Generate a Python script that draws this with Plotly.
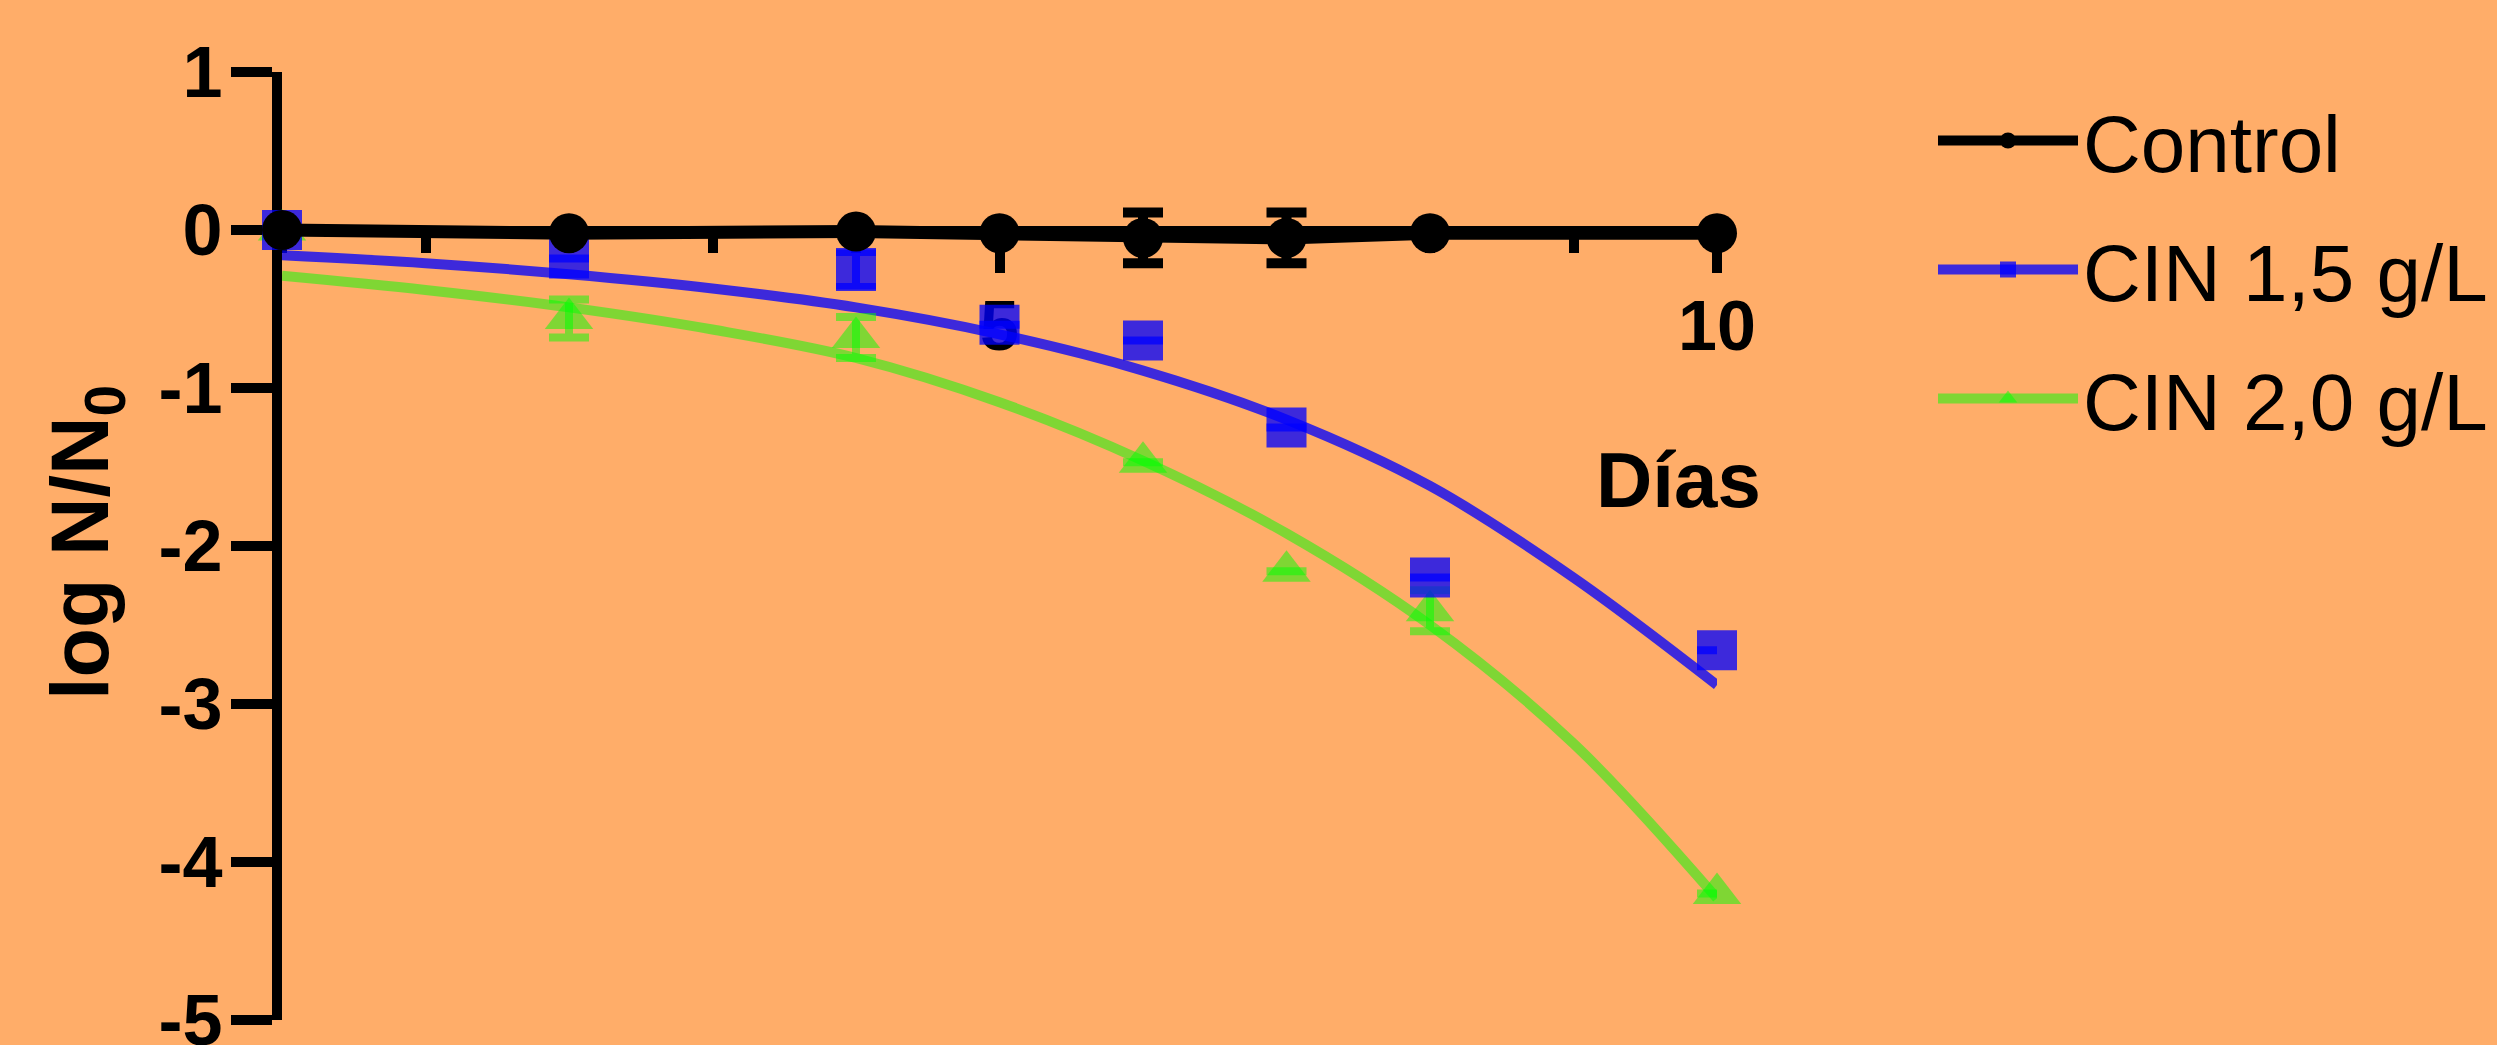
import plotly.graph_objects as go

# ---- data ----
ctrl_x = [0, 2, 4, 5, 6, 7, 8, 10]
ctrl_y = [0.0, -0.02, -0.01, -0.02, -0.05, -0.05, -0.02, -0.02]
ctrl_err = [0, 0, 0, 0, 0.16, 0.16, 0, 0]

cin15_x = [0, 2, 4, 5, 6, 7, 8, 10]
cin15_y = [0.0, -0.18, -0.25, -0.60, -0.70, -1.25, -2.20, -2.66]
cin15_err = [0, 0, 0.11, 0, 0, 0, 0, 0]

cin20_x = [0, 2, 4, 6, 7, 8, 10]
cin20_y = [0.0, -0.56, -0.68, -1.47, -2.16, -2.41, -4.20]
cin20_err = [0, 0.12, 0.13, 0, 0, 0.13, 0]

fit_x = [0, 1, 2, 3, 4, 5, 6, 7, 8, 9, 10]
fit15_y = [-0.16, -0.21, -0.28, -0.37, -0.49, -0.66, -0.89, -1.20, -1.62, -2.20, -2.88]
fit20_y = [-0.29, -0.38, -0.49, -0.63, -0.81, -1.09, -1.46, -1.92, -2.50, -3.25, -4.23]

y_ticks = [1, 0, -1, -2, -3, -4, -5]
y_ticktext = ["1", "0", "-1", "-2", "-3", "-4", "-5"]
x_ticks = [5, 10]
x_ticktext = ["5", "10"]

series_names = ["Control", "CIN 1,5 g/L", "CIN 2,0 g/L"]

BG = "#FFAD69"
BLACK = "#000000"
BLUE = "rgba(0,0,255,0.76)"
GREEN = "rgba(0,255,0,0.5)"
FONT = "Liberation Sans, Arial, sans-serif"

fig = go.Figure()

# fitted curves
fig.add_trace(go.Scatter(x=fit_x, y=fit20_y, mode="lines", line=dict(color=GREEN, width=10, shape="spline"),
                         showlegend=False, cliponaxis=False))
fig.add_trace(go.Scatter(x=fit_x, y=fit15_y, mode="lines", line=dict(color=BLUE, width=10, shape="spline"),
                         showlegend=False, cliponaxis=False))

# CIN 2.0 points
fig.add_trace(go.Scatter(x=cin20_x, y=cin20_y, mode="markers",
                         marker=dict(symbol="triangle-up", size=42, color=GREEN, line=dict(width=0)),
                         error_y=dict(type="data", array=cin20_err, color=GREEN, thickness=8, width=20),
                         showlegend=False, cliponaxis=False))
# CIN 1.5 points
fig.add_trace(go.Scatter(x=cin15_x, y=cin15_y, mode="markers",
                         marker=dict(symbol="square", size=40, color=BLUE, line=dict(width=0)),
                         error_y=dict(type="data", array=cin15_err, color=BLUE, thickness=8, width=20),
                         showlegend=False, cliponaxis=False))
# Control
fig.add_trace(go.Scatter(x=ctrl_x, y=ctrl_y, mode="lines+markers",
                         line=dict(color=BLACK, width=13),
                         marker=dict(symbol="circle", size=40, color=BLACK),
                         error_y=dict(type="data", array=ctrl_err, color=BLACK, thickness=10, width=20),
                         showlegend=False, cliponaxis=False))

# legend entries
leg_styles = [
    (BLACK, "circle"),
    (BLUE, "square"),
    (GREEN, "triangle-up"),
]
for i, (name, (col, sym)) in enumerate(zip(series_names, leg_styles)):
    fig.add_trace(go.Scatter(x=[None], y=[None], mode="lines+markers", name=name,
                             line=dict(color=col, width=10),
                             marker=dict(symbol=sym, size=40, color=col),
                             legendgroup=f"g{i}", showlegend=True))

fig.update_layout(
    width=2497, height=1045,
    paper_bgcolor=BG, plot_bgcolor=BG,
    margin=dict(l=282, r=780, t=72, b=25, autoexpand=False),
    font=dict(family=FONT, color="black"),
    showlegend=True,
    legend=dict(
        xref="container", yref="container",
        x=1933 / 2497, y=1 - 82 / 1045, xanchor="left", yanchor="top",
        font=dict(family=FONT, size=80, color="black"),
        bgcolor="rgba(0,0,0,0)", traceorder="grouped", tracegroupgap=22,
        itemwidth=140,
    ),
    xaxis=dict(
        range=[0, 10], anchor="free", position=5 / 6,
        showgrid=False, zeroline=False,
        showline=True, linecolor="black", linewidth=9,
        tickvals=x_ticks, ticktext=x_ticktext,
        ticks="outside", ticklen=38, tickwidth=10, tickcolor="black",
        minor=dict(dtick=1, tick0=0, ticks="outside", ticklen=18, tickwidth=10, tickcolor="black", showgrid=False),
        tickfont=dict(family=FONT, size=70, color="black", weight="bold"),
        ticklabelstandoff=-7,
        layer="below traces", automargin=False,
    ),
    yaxis=dict(
        range=[-5, 1],
        showgrid=False, zeroline=False,
        showline=True, linecolor="black", linewidth=10,
        tickvals=y_ticks, ticktext=y_ticktext,
        ticks="outside", ticklen=41, tickwidth=10, tickcolor="black",
        tickfont=dict(family=FONT, size=72, color="black", weight="bold"),
        ticklabelstandoff=-6, ticklabeloverflow="allow",
        layer="below traces", automargin=False,
    ),
    annotations=[
        dict(text="log N/N<sub>0</sub>", textangle=-90, xref="paper", yref="paper",
             x=(86 - 282) / 1435, y=(1020 - 542) / 948, xanchor="center", yanchor="middle",
             showarrow=False, font=dict(family=FONT, size=81, color="black", weight="bold")),
        dict(text="Días", xref="paper", yref="paper",
             x=(1678 - 282) / 1435, y=(1020 - 480) / 948, xanchor="center", yanchor="middle",
             showarrow=False, font=dict(family=FONT, size=78, color="black", weight="bold")),
    ],
)

fig.write_html("out.html",
               config={"displayModeBar": False},
               post_script="document.body.style.margin='0';document.body.style.padding='0';"
                           "document.body.style.overflow='hidden';")
